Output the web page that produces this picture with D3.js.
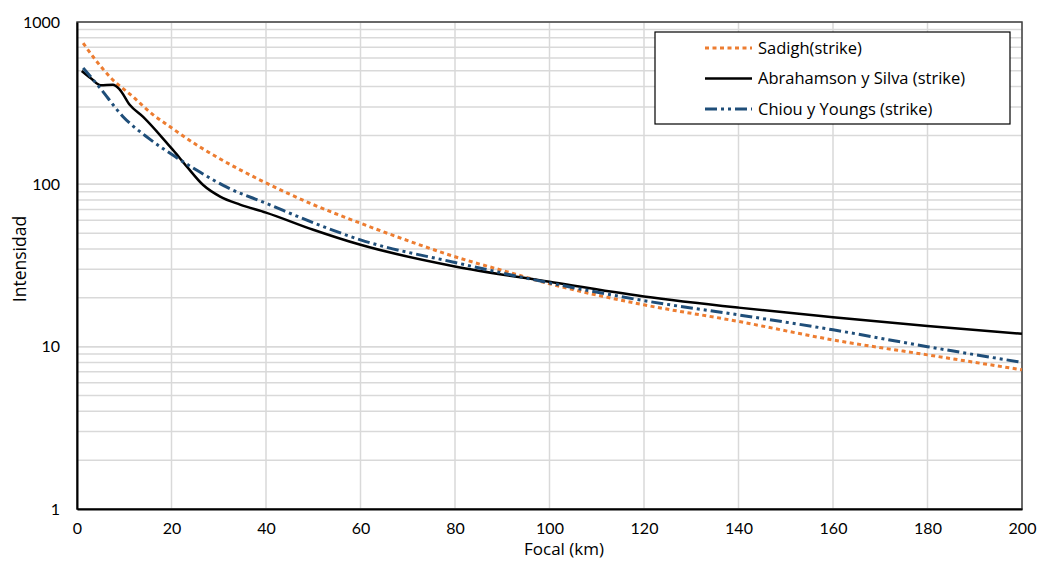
<!DOCTYPE html>
<html>
<head>
<meta charset="utf-8">
<script src="https://cdn.jsdelivr.net/npm/d3@7"></script>
<style>
  body { margin: 0; background: #fff; }
  text { font-family: "Open Sans", Lato, sans-serif; fill: #000; }
</style>
</head>
<body>
<div id="chart"></div>
<script>
// data
var sadighX = [1.3, 4, 7, 11.9, 16, 19.7, 26, 30, 40, 50, 60, 70, 80, 90, 100, 120, 140, 160, 180, 200];
var sadighY = [741, 580, 458, 345, 270, 226, 170, 145, 102, 75, 57.6, 45, 35.8, 29.5, 24.4, 18.1, 14.3, 11.0, 8.9, 7.2];

var abrahamsonX = [1, 3, 5, 7.6, 9, 11.2, 14, 19, 20.3, 23.3, 26.7, 30.3, 34.5, 40, 50, 60, 80, 100, 120, 140, 160, 180, 200];
var abrahamsonY = [499, 448, 408, 410, 385, 308, 260, 180, 163, 128, 99, 84, 75, 67, 52.5, 42.4, 31.2, 25.1, 20.4, 17.4, 15.2, 13.4, 12.0];

var chiouX = [1.3, 4.7, 9.7, 15.4, 21.1, 26, 31.7, 40, 50, 60, 80, 100, 120, 140, 160, 180, 200];
var chiouY = [521, 398, 262, 190, 146, 119, 96, 76.5, 58, 45.5, 33, 24.7, 19.2, 15.7, 12.7, 10.0, 8.0];

var seriesNames = ["Sadigh(strike)", "Abrahamson y Silva (strike)", "Chiou y Youngs (strike)"];
var xTicks = [0, 20, 40, 60, 80, 100, 120, 140, 160, 180, 200];
var yTicks = [1, 10, 100, 1000];

var svgWidth = 1037;
var svgHeight = 561;
var margin = { top: 22, right: 15, bottom: 52, left: 77 };
var chartWidth = 1022 - margin.left;
var chartHeight = 509 - margin.top;

var svg = d3.select("#chart").append("svg")
  .attr("width", svgWidth)
  .attr("height", svgHeight);

var g = svg.append("g")
  .attr("transform", `translate(${margin.left}, ${margin.top})`);

var x = d3.scaleLinear().domain([0, 200]).range([0, chartWidth]);
var y = d3.scaleLog().domain([1, 1000]).range([chartHeight, 0]);

// minor + major horizontal grid lines
var hGrid = [];
[1, 10, 100].forEach(function(d) {
  for (var k = 1; k <= 10; k++) hGrid.push(d * k);
});
g.selectAll(".hgrid").data(hGrid).enter().append("line")
  .attr("x1", 0).attr("x2", chartWidth)
  .attr("y1", d => y(d)).attr("y2", d => y(d))
  .attr("stroke", "#d9d9d9").attr("stroke-width", 1.5);

g.selectAll(".vgrid").data(xTicks).enter().append("line")
  .attr("x1", d => x(d)).attr("x2", d => x(d))
  .attr("y1", 0).attr("y2", chartHeight)
  .attr("stroke", "#d9d9d9").attr("stroke-width", 1.5);

// frame
g.append("rect")
  .attr("width", chartWidth).attr("height", chartHeight)
  .attr("fill", "none").attr("stroke", "#404040").attr("stroke-width", 1.5);

// axes
var bottomAxis = d3.axisBottom(x).tickValues(xTicks).tickSize(0).tickPadding(14);
var leftAxis = d3.axisLeft(y).tickValues(yTicks).tickFormat(d3.format("d")).tickSize(0).tickPadding(17);

var xa = g.append("g").attr("transform", `translate(0, ${chartHeight})`).call(bottomAxis);
var ya = g.append("g").call(leftAxis);
[xa, ya].forEach(function(a) {
  a.select(".domain").attr("stroke", "#000").attr("stroke-width", 2);
  a.selectAll("text").style("font-size", "16px").style("font-family", "Lato, sans-serif").attr("fill", "#000");
});

// lines
var series = [
  { xs: sadighX, ys: sadighY, color: "#ed7d31", width: 3, dash: "4,3.5" },
  { xs: abrahamsonX, ys: abrahamsonY, color: "#000000", width: 2.5, dash: null },
  { xs: chiouX, ys: chiouY, color: "#1f4e79", width: 3, dash: "12,4,3,4,3,4" }
];

var line = d3.line()
  .x(d => x(d[0]))
  .y(d => y(d[1]))
  .curve(d3.curveMonotoneX);

series.forEach(function(s) {
  g.append("path")
    .datum(d3.zip(s.xs, s.ys))
    .attr("d", line)
    .attr("fill", "none")
    .attr("stroke", s.color)
    .attr("stroke-width", s.width)
    .attr("stroke-dasharray", s.dash);
});

// legend
var legend = svg.append("g").attr("transform", "translate(655, 32)");
legend.append("rect")
  .attr("width", 355).attr("height", 92)
  .attr("fill", "#fff").attr("stroke", "#000").attr("stroke-width", 1.2);

series.forEach(function(s, i) {
  var ly = 16 + i * 30.5;
  legend.append("line")
    .attr("x1", 50).attr("x2", 97)
    .attr("y1", ly).attr("y2", ly)
    .attr("stroke", s.color)
    .attr("stroke-width", s.width)
    .attr("stroke-dasharray", s.dash);
  legend.append("text")
    .attr("x", 103).attr("y", ly)
    .attr("dy", "0.35em")
    .style("font-size", "16.5px")
    .text(seriesNames[i]);
});

// axis titles
svg.append("text")
  .attr("text-anchor", "middle")
  .attr("transform", `translate(26, 259) rotate(-90)`)
  .style("font-size", "17.5px")
  .text("Intensidad");

svg.append("text")
  .attr("text-anchor", "middle")
  .attr("x", 564).attr("y", 555)
  .style("font-size", "17px")
  .text("Focal (km)");
</script>
</body>
</html>
